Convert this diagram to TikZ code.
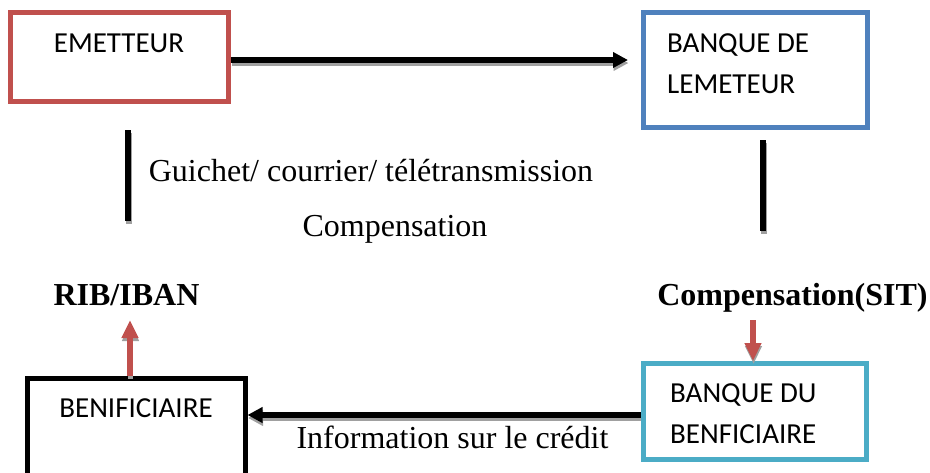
\documentclass[tikz,border=0pt]{standalone}
\usepackage{fontspec}
\setmainfont{Liberation Serif}
\newfontfamily\boxfont{Carlito}
\usetikzlibrary{arrows.meta}

\definecolor{boxred}{HTML}{C0504D}
\definecolor{boxblue}{HTML}{4F81BD}
\definecolor{boxcyan}{HTML}{4BACC6}
\definecolor{shadowgray}{HTML}{A0A0A0}

\begin{document}
\begin{tikzpicture}[x=1pt,y=-1pt,
  party/.style={draw, line width=5pt, fill=white, inner sep=0pt},
  boxtext/.style={font=\boxfont\fontsize{29}{40.6}\selectfont, inner sep=0pt},
  label/.style={font=\fontsize{32}{38}\selectfont, inner sep=0pt, anchor=base},
  boldlabel/.style={label, font=\fontsize{32}{38}\selectfont\bfseries},
  flowtip/.style={-{Triangle[length=15pt,width=15pt]}},
  redtip/.style={-{Triangle[length=18pt,width=16pt]}},
  flow/.style={line width=5.5pt, flowtip},
  redflow/.style={line width=6pt, draw=boxred, redtip},
  bar/.style={line width=6pt},
  shade/.style={draw=shadowgray}
]
\useasboundingbox (0,0) rectangle (930,472);
\clip (0,0) rectangle (930,472);

% the four parties
\node[party, draw=boxred, minimum width=218pt, minimum height=89.5pt] (emetteur) at (119.5,56.75) {};
\node[party, draw=boxblue, minimum width=223.5pt, minimum height=115.5pt] (bqemet) at (755.25,69.75) {};
\node[party, draw=boxcyan, minimum width=223.5pt, minimum height=96pt] (bqbenef) at (754.75,411.5) {};
\node[party, draw=black, minimum width=218pt, minimum height=97pt] (benef) at (136,426.5) {};

% texts inside the boxes (base anchor sits on the last line)
\node[boxtext, anchor=base] (temet) at (119,52.5) {EMETTEUR};
\node[boxtext, anchor=base west, align=left] (tbqemet) at (667,93.5) {BANQUE DE\\LEMETEUR};
\node[boxtext, anchor=base west, align=left] (tbqbenef) at (670,443) {BANQUE DU\\BENFICIAIRE};
\node[boxtext, anchor=base] (tbenef) at (136,417) {BENIFICIAIRE};

% free labels
\node[label] (guichet) at (371,181) {Guichet/ courrier/ télétransmission};
\node[label] (comp) at (395,236) {Compensation};
\node[boldlabel] (rib) at (126.5,305) {RIB/IBAN};
\node[boldlabel] (sit) at (792.5,305) {Compensation(SIT)};
\node[label] (info) at (452.5,448) {Information sur le crédit};

% end points of the bars and red arrows
\coordinate (barLa) at (128,130);
\coordinate (barLb) at (128,221);
\coordinate (barRa) at (763,140);
\coordinate (barRb) at (763,231);
\coordinate (ribtip) at (130,320);
\coordinate (sitfoot) at (753,320);

% soft drop shadows under the connectors
\begin{scope}[transform canvas={shift={(0.5pt,-3pt)}}]
  \draw[flow, shade, shorten >=13pt] (emetteur.east |- 0,60) -- (bqemet.west |- 0,60);
  \draw[flow, shade] (bqbenef.west |- 0,415) -- (benef.east |- 0,415);
  \draw[redflow, shade, line width=5pt] (benef.north -| ribtip) -- (ribtip);
  \draw[redflow, shade, line width=5pt] (sitfoot) -- (bqbenef.north -| sitfoot);
  \draw[bar, shade] (barLa) -- (barLb);
  \draw[bar, shade] (barRa) -- (barRb);
\end{scope}

% connectors
\draw[flow, shorten >=13pt] (emetteur.east |- 0,60) -- (bqemet.west |- 0,60);
\draw[flow] (bqbenef.west |- 0,415) -- (benef.east |- 0,415);
\draw[redflow] (benef.north -| ribtip) -- (ribtip);
\draw[redflow] (sitfoot) -- (bqbenef.north -| sitfoot);
\draw[bar] (barLa) -- (barLb);
\draw[bar] (barRa) -- (barRb);
\end{tikzpicture}
\end{document}
